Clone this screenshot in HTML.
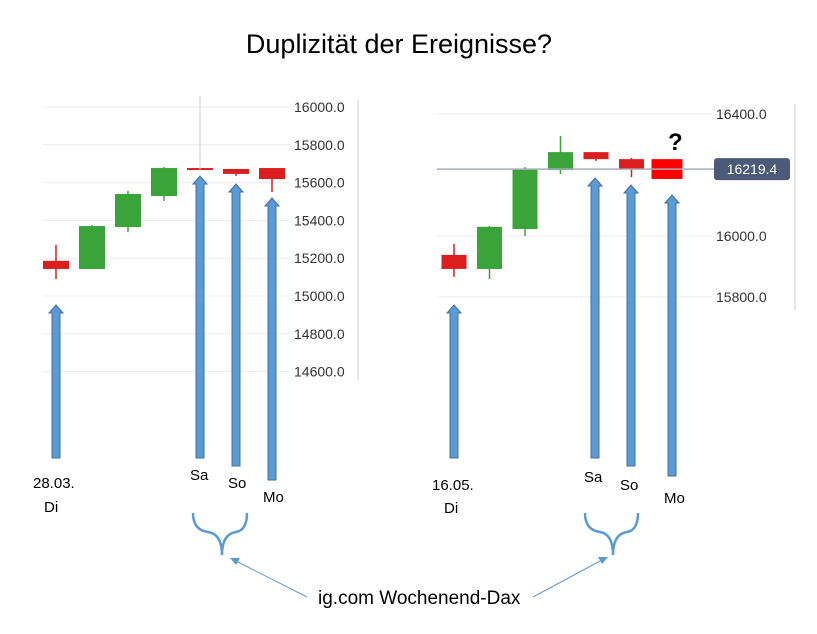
<!DOCTYPE html>
<html><head><meta charset="utf-8"><style>
html,body{margin:0;padding:0;background:#fff;}
svg{display:block;font-family:"Liberation Sans",sans-serif;}
.ann{font-family:"Liberation Sans",sans-serif;font-size:15px;fill:#000;}
</style></head><body>
<svg id="chart" width="817" height="634" viewBox="0 0 817 634">
<text x="399" y="53" text-anchor="middle" font-size="27" fill="#000">Duplizität der Ereignisse?</text>
<g id="left"></g>
<g id="right"></g>
<g id="arrows"></g>
<g>
<text class="ann" x="33" y="488">28.03.</text>
<text class="ann" x="44" y="512">Di</text>
<text class="ann" x="190" y="480">Sa</text>
<text class="ann" x="228" y="488">So</text>
<text class="ann" x="263" y="502">Mo</text>
<text class="ann" x="432" y="490">16.05.</text>
<text class="ann" x="444" y="513">Di</text>
<text class="ann" x="584" y="482">Sa</text>
<text class="ann" x="620" y="490">So</text>
<text class="ann" x="664" y="503">Mo</text>
<text x="668" y="150" font-size="24" font-weight="bold" fill="#000">?</text>
<path d="M193,513 Q193,530 208,532 Q222,534 222,555 M247,513 Q247,530 236,532 Q222,534 222,555" fill="none" stroke="#5b9bd5" stroke-width="2.5"/>
<path d="M585,513 Q585,530 600,532 Q613,534 613,555 M638,513 Q638,530 627,532 Q613,534 613,555" fill="none" stroke="#5b9bd5" stroke-width="2.5"/>
<line x1="307" y1="597" x2="236" y2="561" stroke="#5b9bd5" stroke-width="1"/>
<polygon points="230,558 240,558 236,565" fill="#5b9bd5"/>
<line x1="533" y1="597" x2="602" y2="560" stroke="#5b9bd5" stroke-width="1"/>
<polygon points="608,557 598,557 602,564" fill="#5b9bd5"/>
<text x="318" y="604" font-size="19" fill="#000">ig.com Wochenend-Dax</text>
</g>
</svg>
<script>
// Left chart data
const leftTicks = [16000, 15800, 15600, 15400, 15200, 15000, 14800, 14600];
const leftOpen  = [15186, 15143, 15365, 15529, 15677, 15672, 15677];
const leftClose = [15143, 15370, 15540, 15677, 15667, 15646, 15619];
const leftHigh  = [15270, 15376, 15556, 15683, 15677, 15672, 15677];
const leftLow   = [15090, 15143, 15339, 15503, 15667, 15635, 15550];
// Right chart data
const rightTicks = [16400, 16000, 15800];
const rightOpen  = [15938, 15892, 16023, 16216, 16275, 16252, 16252];
const rightClose = [15892, 16030, 16220, 16275, 16252, 16220, 16187];
const rightHigh  = [15974, 16033, 16226, 16328, 16275, 16256, 16252];
const rightLow   = [15866, 15859, 16000, 16203, 16246, 16193, 16187];
const rightLast = [16219.4];

const NS = "http://www.w3.org/2000/svg";
function mk(parent, tag, attrs){ const e=document.createElementNS(NS,tag); for(const k in attrs) e.setAttribute(k,attrs[k]); parent.appendChild(e); return e; }

function drawChart(g, cfg, ticks, O, C, H, L){
  const y = p => cfg.y0 + (cfg.p0 - p) * cfg.pxPer;
  ticks.forEach(t=>{
    const ln = mk(g,'line',{x1:cfg.gx0,x2:cfg.gx1,y1:y(t),y2:y(t),stroke:'#ececec','stroke-width':1});
    
    
    const tx = mk(g,'text',{x:cfg.lx,y:y(t)+5,'font-size':14,fill:'#333'});
    tx.textContent = t.toFixed(1);
    
    
  });
  const ax = mk(g,'line',{x1:cfg.axX,x2:cfg.axX,y1:cfg.axY0,y2:cfg.axY1,stroke:'#ddd','stroke-width':1.5});
  
  
  O.forEach((o,i)=>{
    const c=C[i], cx=cfg.x0+i*cfg.dx;
    const up = c>o;
    let col = up ? '#3aa33a' : '#dd1e1e';
    let w = cfg.w;
    if(cfg.lastBright && i===O.length-1){ col='#ff0000'; w=cfg.w+6; }
    const wk = mk(g,'line',{x1:cx,x2:cx,y1:y(H[i]),y2:y(L[i]),stroke:col,'stroke-width':1.5});
    
    
    const top=y(Math.max(o,c)), bot=y(Math.min(o,c));
    const r = mk(g,'rect',{x:cx-w/2,y:top,width:w,height:Math.max(bot-top,2),fill:col});
    
    
  });
  return y;
}

const lg=document.getElementById('left');
const yl = drawChart(lg,{y0:107,p0:16000,pxPer:37.8/200,gx0:43,gx1:290,lx:294,x0:56,dx:36,w:26,axX:358,axY0:100,axY1:380},leftTicks,leftOpen,leftClose,leftHigh,leftLow);
const cross = mk(lg,'line',{x1:200,x2:200,y1:96,y2:170,stroke:'#ccc','stroke-width':1});



const rg=document.getElementById('right');
const yr = drawChart(rg,{y0:114,p0:16400,pxPer:61/200,gx0:437,gx1:712,lx:716,x0:454,dx:35.5,w:25,axX:795,axY0:104,axY1:310,lastBright:true},rightTicks,rightOpen,rightClose,rightHigh,rightLow);
const pl = mk(rg,'line',{x1:437,x2:714,y1:yr(rightLast[0]),y2:yr(rightLast[0]),stroke:'#a8aeb8','stroke-width':1.5});


const bx = mk(rg,'rect',{x:714,y:yr(rightLast[0])-11,width:76,height:22,rx:3,fill:'#4a5a78'});


const bt = mk(rg,'text',{x:752,y:yr(rightLast[0])+5,'font-size':14,fill:'#fff','text-anchor':'middle'});
bt.textContent = rightLast[0].toFixed(1);



// arrows: [x, tipY, bottomY]
const arrowX   = [56, 200, 236, 272, 454, 595, 631, 672];
const arrowTop = [305, 176, 184, 198, 305, 178, 185, 195];
const arrowBot = [458, 458, 466, 480, 458, 458, 466, 476];
const ag=document.getElementById('arrows');
arrowX.forEach((x,i)=>{
  const t=arrowTop[i], b=arrowBot[i];
  const p = mk(ag,'path',{d:`M${x-4},${b} L${x-4},${t+8} L${x-7},${t+8} L${x},${t} L${x+7},${t+8} L${x+4},${t+8} L${x+4},${b} Z`,fill:'#5b9bd5',stroke:'#41719c','stroke-width':1});
  
  
});
</script>
</body></html>
